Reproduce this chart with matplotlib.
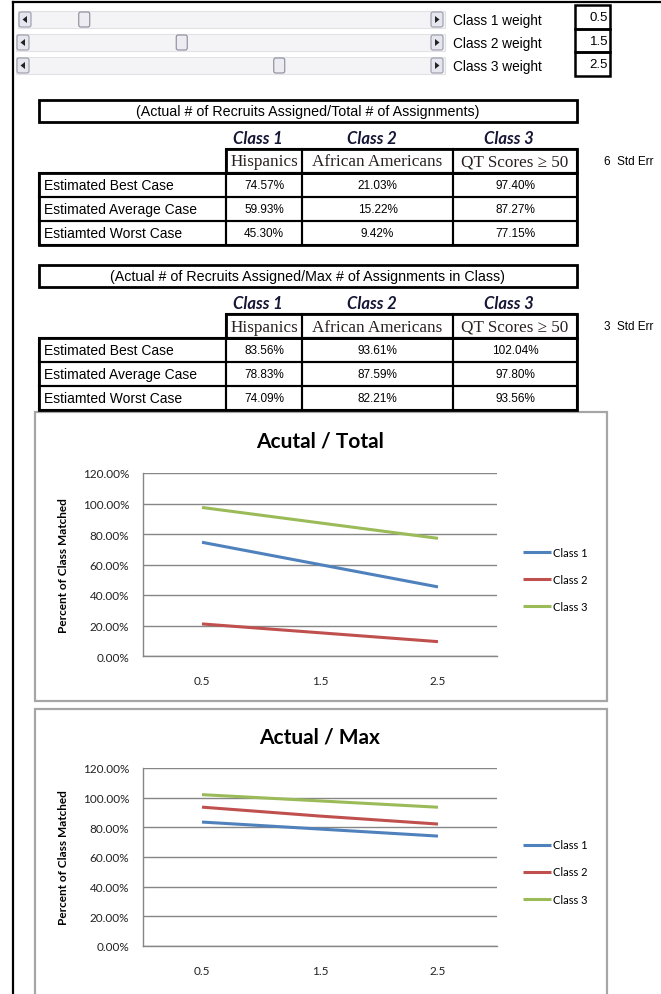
import matplotlib
matplotlib.use("Agg")
import matplotlib.pyplot as plt
from matplotlib.patches import Rectangle, FancyBboxPatch, Polygon
from matplotlib.ticker import FuncFormatter

# ---- data ----
weight_labels = ["Class 1 weight", "Class 2 weight", "Class 3 weight"]
weights = [0.5, 1.5, 2.5]

class_names = ["Class 1", "Class 2", "Class 3"]
groups = ["Hispanics", "African Americans", "QT Scores \u2265 50"]
cases = ["Estimated Best Case", "Estimated Average Case", "Estiamted Worst Case"]

total_title = "(Actual # of Recruits Assigned/Total # of Assignments)"
total_std = "6  Std Err"
total_pct = [[74.57, 21.03, 97.40],
             [59.93, 15.22, 87.27],
             [45.30, 9.42, 77.15]]

max_title = "(Actual # of Recruits Assigned/Max # of Assignments in Class)"
max_std = "3  Std Err"
max_pct = [[83.56, 93.61, 102.04],
           [78.83, 87.59, 97.80],
           [74.09, 82.21, 93.56]]

x_labels = ["0.5", "1.5", "2.5"]
colors = ["#4F81BD", "#C0504D", "#9BBB59"]

W, H = 661, 995
fig = plt.figure(figsize=(W / 100, H / 100), dpi=100)
bg = fig.add_axes([0, 0, 1, 1])
bg.set_xlim(0, W)
bg.set_ylim(H, 0)
bg.axis("off")

sans = ["Liberation Sans", "DejaVu Sans"]
serif = ["Liberation Serif", "DejaVu Serif"]
cal = ["Lato", "DejaVu Sans"]


def px_axes(x0, y0, x1, y1):
    return fig.add_axes([x0 / W, 1 - y1 / H, (x1 - x0) / W, (y1 - y0) / H])


def box(x0, y0, x1, y1, lw=1.5, ec="black", fc="none", z=2):
    bg.add_patch(Rectangle((x0, y0), x1 - x0, y1 - y0, lw=lw, ec=ec, fc=fc, zorder=z))


# sheet border
bg.plot([13, 13], [3, H], color="black", lw=1.6)
bg.plot([13, W], [3, 3], color="black", lw=1.6)

# ---- scroll bars ----
row_y = [12, 35, 58]
for i, (lab, w) in enumerate(zip(weight_labels, weights)):
    y0 = row_y[i]
    h = 17
    lft = 18 if i == 0 else 16
    bg.add_patch(Rectangle((lft, y0), 445 - lft, h, fc="#f4f4f6", ec="#e2e2e6", lw=0.8))
    for bx, d in [(lft, -1), (430, 1)]:
        bg.add_patch(FancyBboxPatch((bx + 1, y0 + 1), 12, h - 2, boxstyle="round,pad=0,rounding_size=2",
                                    fc="#e6e6ee", ec="#9a9aaa", lw=0.8))
        cx, cy = bx + 7, y0 + h / 2
        bg.add_patch(Polygon([(cx + 2.5 * d, cy), (cx - 2 * d, cy - 3.5), (cx - 2 * d, cy + 3.5)],
                             fc="#222222", ec="none"))
    tx = 30 + w * 97.5
    bg.add_patch(FancyBboxPatch((tx, y0 + 1), 11, h - 2, boxstyle="round,pad=0,rounding_size=2",
                                fc="#ececf2", ec="#8a8a9a", lw=0.8))
    bg.text(453, y0 + h / 2 + 0.5, lab, family=sans, fontsize=9.8, va="center", ha="left")
    box(575, 6 + i * 23.7, 610, 6 + (i + 1) * 23.7, lw=1.8)
    bg.text(608, 6 + (i + 0.5) * 23.7, f"{w:g}", family=sans, fontsize=9.5, va="center", ha="right")


# ---- tables ----
col_x = [39, 226, 302, 453, 577]


def draw_table(top, title, pct, std):
    box(col_x[0], top, col_x[-1], top + 22, lw=2)
    bg.text((col_x[0] + col_x[-1]) / 2, top + 11, title, family=sans, fontsize=10.3, ha="center", va="center")
    hy = top + 38
    for j, c in enumerate(class_names):
        bg.text((col_x[j + 1] + col_x[j + 2]) / 2 - 6, hy, c, family=cal, fontsize=12,
                weight="bold", style="italic", color="#151535", ha="center", va="center")
    r0 = top + 49
    for j, g in enumerate(groups):
        box(col_x[j + 1], r0, col_x[j + 2], r0 + 24, lw=1.5)
        bg.text((col_x[j + 1] + col_x[j + 2]) / 2, r0 + 12.5, g, family=serif, fontsize=12.3,
                color="#2a2020", ha="center", va="center")
    box(col_x[1], r0, col_x[-1], r0 + 24, lw=2)
    bg.text(604, r0 + 12, std, family=sans, fontsize=8.5, ha="left", va="center")
    d0 = r0 + 24
    rh = 24
    for i, case in enumerate(cases):
        y = d0 + i * rh
        for j in range(4):
            box(col_x[j], y, col_x[j + 1], y + rh, lw=1.5)
        bg.text(col_x[0] + 5, y + rh / 2, case, family=sans, fontsize=10, ha="left", va="center")
        for j in range(3):
            bg.text((col_x[j + 1] + col_x[j + 2]) / 2, y + rh / 2, f"{pct[i][j]:.2f}%",
                    family=sans, fontsize=8.5, ha="center", va="center")
    box(col_x[0], d0, col_x[-1], d0 + 3 * rh, lw=2)


draw_table(101, total_title, total_pct, total_std)
draw_table(266, max_title, max_pct, max_std)


# ---- charts ----
def draw_chart(top, bottom, plot_top, plot_bot, title, pct):
    box(35, top, 607, bottom, lw=1.6, ec="#a6a6a6", fc="white", z=1)
    bg.text(320, top + 28, title, family=cal, fontsize=15, weight="bold", ha="center", va="center")
    ax = px_axes(143, plot_top, 497, plot_bot)
    for j in range(3):
        ax.plot(range(3), [row[j] for row in pct], color=colors[j], lw=2.2,
                label=class_names[j], solid_capstyle="butt")
    ax.set_xlim(-0.5, 2.5)
    ax.set_ylim(0, 120)
    ax.set_yticks(range(0, 121, 20))
    ax.yaxis.set_major_formatter(FuncFormatter(lambda v, p: f"{v:.2f}%"))
    ax.set_xticks(range(3))
    ax.set_xticklabels(x_labels)
    ax.yaxis.grid(True, color="#868686", lw=1)
    ax.set_axisbelow(True)
    for s in ["top", "right"]:
        ax.spines[s].set_visible(False)
    for s in ["left", "bottom"]:
        ax.spines[s].set_color("#868686")
        ax.spines[s].set_linewidth(1)
    ax.tick_params(length=0, labelsize=8.5, colors="#222222")
    ax.tick_params(axis="y", pad=10)
    ax.tick_params(axis="x", pad=14)
    for t in ax.get_xticklabels() + ax.get_yticklabels():
        t.set_family(cal)
    ax.set_ylabel("Percent of Class Matched", family=cal, fontsize=8.5, weight="bold", labelpad=10)
    ax.patch.set_alpha(0)
    mid = (plot_top + plot_bot) / 2
    leg = ax.legend(loc="center left", bbox_to_anchor=(517 / W, 1 - (mid + 15) / H),
                    bbox_transform=fig.transFigure, frameon=False, fontsize=8,
                    handlelength=2.6, handletextpad=0.1, labelspacing=1.45, borderpad=0)
    for t in leg.get_texts():
        t.set_family(cal)
    return ax


draw_chart(413, 702, 474, 657, "Acutal / Total", total_pct)
draw_chart(710, 1010, 769, 947, "Actual / Max", max_pct)

fig.savefig("out.png", dpi=100)
